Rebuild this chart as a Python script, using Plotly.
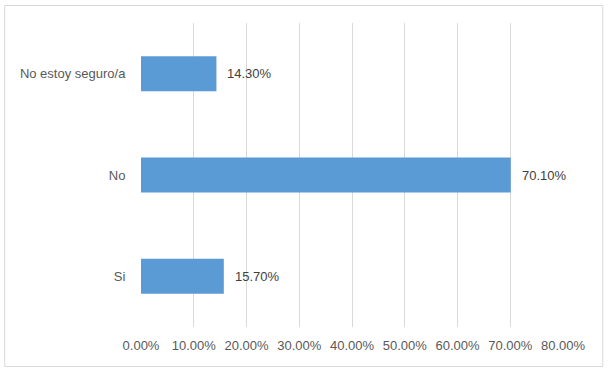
import plotly.graph_objects as go

categories = ["Si", "No", "No estoy seguro/a"]
values = [0.157, 0.701, 0.143]
value_labels = ["15.70%", "70.10%", "14.30%"]
x_ticks = [0.0, 0.1, 0.2, 0.3, 0.4, 0.5, 0.6, 0.7, 0.8]
x_tick_labels = ["0.00%", "10.00%", "20.00%", "30.00%", "40.00%", "50.00%", "60.00%", "70.00%", "80.00%"]

FONT = "Liberation Sans, Arial, sans-serif"

fig = go.Figure()
fig.add_trace(go.Bar(
    x=values, y=categories, orientation="h",
    marker=dict(color="#5B9BD5", line=dict(width=0)),
    hoverinfo="skip",
))

for c, v, t in zip(categories, values, value_labels):
    fig.add_annotation(x=v, y=c, text=t, showarrow=False, xanchor="left",
                       xshift=9, font=dict(family=FONT, size=13, color="#404040"))

fig.add_shape(type="rect", xref="paper", yref="paper",
              x0=-0.323, x1=1.0944, y0=-0.1299, y1=1.0576,
              line=dict(color="#D9D9D9", width=1), fillcolor="rgba(0,0,0,0)", layer="below")

fig.update_layout(
    width=608, height=374,
    margin=dict(l=141, r=45, t=23, b=47),
    paper_bgcolor="white", plot_bgcolor="white",
    showlegend=False,
    bargap=0.655,
    font=dict(family=FONT, size=13, color="#595959"),
    xaxis=dict(range=[0, 0.8], tickvals=x_ticks, ticktext=x_tick_labels,
               showgrid=True, gridcolor="#D9D9D9", gridwidth=1,
               zeroline=False, showline=False,
               ticks="outside", ticklen=6, tickcolor="rgba(0,0,0,0)",
               tickfont=dict(family=FONT, size=13, color="#595959"),
               fixedrange=True),
    yaxis=dict(categoryorder="array", categoryarray=categories,
               showgrid=False, zeroline=False, showline=False,
               ticks="outside", ticklen=12, tickcolor="rgba(0,0,0,0)",
               tickfont=dict(family=FONT, size=13, color="#595959"),
               fixedrange=True),
)

fig.write_html("out.html", config={"displayModeBar": False},
               post_script="document.body.style.margin='0';document.body.style.overflow='hidden';")
